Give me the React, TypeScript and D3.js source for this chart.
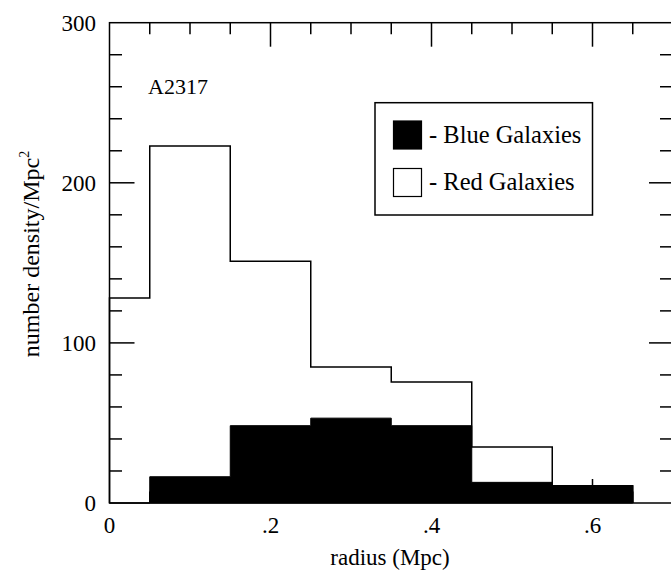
import React, { useEffect, useRef } from "react";
import * as d3 from "d3";

// bin edges (Mpc) and densities
const binEdges = [0, 0.05, 0.15, 0.25, 0.35, 0.45, 0.55, 0.65];
const redValues = [128, 223, 151, 85, 75.5, 35, 10.8];
const blueValues = [0, 16.4, 48.3, 53, 48.3, 12.9, 10.8];

const xTickValues = [0, 0.2, 0.4, 0.6];
const xTickLabels = ["0", ".2", ".4", ".6"];
const yTickValues = [0, 100, 200, 300];
const yTickLabels = ["0", "100", "200", "300"];

const legendItems = [
    { label: "- Blue Galaxies", fill: "#000" },
    { label: "- Red Galaxies", fill: "#fff" },
];

const FONT = "'Liberation Serif', 'Times New Roman', serif";

const App = () => {
    const svgRef = useRef(null);

    useEffect(() => {
        const svg = d3.select(svgRef.current);
        svg.selectAll("*").remove();

        const x = d3.scaleLinear().domain([0, 0.7]).range([109.5, 673]);
        const y = d3.scaleLinear().domain([0, 300]).range([503, 22.7]);

        // step outline points for a histogram
        const stepPoints = (vals) => {
            const pts = [[binEdges[0], 0]];
            vals.forEach((v, i) => {
                pts.push([binEdges[i], v]);
                pts.push([binEdges[i + 1], v]);
            });
            pts.push([binEdges[binEdges.length - 1], 0]);
            return pts;
        };

        const line = d3
            .line()
            .x((d) => x(d[0]))
            .y((d) => y(d[1]));

        // red galaxies: open histogram
        svg.append("path")
            .attr("d", line(stepPoints(redValues)))
            .attr("fill", "#fff")
            .attr("stroke", "#000")
            .attr("stroke-width", 1.5);

        // blue galaxies: filled histogram
        svg.append("path")
            .attr("d", line(stepPoints(blueValues)) + "Z")
            .attr("fill", "#000")
            .attr("stroke", "#000")
            .attr("stroke-width", 1);

        // frame
        const [x0, x1] = x.range();
        const [y0, y1] = y.range();
        svg.append("rect")
            .attr("x", x0)
            .attr("y", y1)
            .attr("width", x1 - x0)
            .attr("height", y0 - y1)
            .attr("fill", "none")
            .attr("stroke", "#000")
            .attr("stroke-width", 1.5);

        const ticks = svg.append("g").attr("stroke", "#000").attr("stroke-width", 1.5);

        // x ticks every 0.05, long ones at labelled values
        const xMinor = d3.range(0.05, 0.7, 0.05).map((v) => +v.toFixed(2));
        xMinor.forEach((v) => {
            const major = xTickValues.includes(v);
            ticks.append("line")
                .attr("x1", x(v)).attr("x2", x(v))
                .attr("y1", y1).attr("y2", y1 + (major ? 24 : 11.5));
            ticks.append("line")
                .attr("x1", x(v)).attr("x2", x(v))
                .attr("y1", y0).attr("y2", y0 - (major ? 24 : 11.5));
        });

        // y ticks every 20, long ones at labelled values
        const yMinor = d3.range(20, 300, 20);
        yMinor.forEach((v) => {
            const major = yTickValues.includes(v);
            ticks.append("line")
                .attr("x1", x0).attr("x2", x0 + (major ? 25 : 12.5))
                .attr("y1", y(v)).attr("y2", y(v));
            ticks.append("line")
                .attr("x1", x1).attr("x2", x1 - (major ? 24 : 13))
                .attr("y1", y(v)).attr("y2", y(v));
        });

        // tick labels
        svg.selectAll(".xlab")
            .data(xTickValues)
            .enter()
            .append("text")
            .attr("x", (d) => x(d))
            .attr("y", 533)
            .attr("text-anchor", "middle")
            .attr("font-family", FONT)
            .attr("font-size", 23)
            .text((d, i) => xTickLabels[i]);

        svg.selectAll(".ylab")
            .data(yTickValues)
            .enter()
            .append("text")
            .attr("x", 96)
            .attr("y", (d) => y(d))
            .attr("dy", "0.35em")
            .attr("text-anchor", "end")
            .attr("font-family", FONT)
            .attr("font-size", 23)
            .text((d, i) => yTickLabels[i]);

        // axis titles
        svg.append("text")
            .attr("x", 390)
            .attr("y", 565)
            .attr("text-anchor", "middle")
            .attr("font-family", FONT)
            .attr("font-size", 23)
            .text("radius (Mpc)");

        const yTitle = svg.append("text")
            .attr("transform", "translate(39,254) rotate(-90)")
            .attr("text-anchor", "middle")
            .attr("font-family", FONT)
            .attr("font-size", 24);
        yTitle.append("tspan").text("number density/Mpc");
        yTitle.append("tspan").attr("dy", -10).attr("font-size", 14).text("2");

        // cluster name
        svg.append("text")
            .attr("x", 148)
            .attr("y", 94)
            .attr("font-family", FONT)
            .attr("font-size", 22)
            .text("A2317");

        // legend
        const legend = svg.append("g");
        legend.append("rect")
            .attr("x", 375)
            .attr("y", 102.7)
            .attr("width", 217.5)
            .attr("height", 112.3)
            .attr("fill", "#fff")
            .attr("stroke", "#000")
            .attr("stroke-width", 1.5);

        legendItems.forEach((item, i) => {
            const top = 121 + i * 47.5;
            legend.append("rect")
                .attr("x", 393.5)
                .attr("y", top)
                .attr("width", 28)
                .attr("height", 28)
                .attr("fill", item.fill)
                .attr("stroke", "#000")
                .attr("stroke-width", 1.2);
            legend.append("text")
                .attr("x", 429)
                .attr("y", top + 21.5)
                .attr("font-family", FONT)
                .attr("font-size", 24.5)
                .text(item.label);
        });
    }, []);

    return (
        <svg
            ref={svgRef}
            width="671"
            height="575"
            style={{ position: "absolute", left: 0, top: 0, background: "#fff" }}
        ></svg>
    );
};

export default App;
